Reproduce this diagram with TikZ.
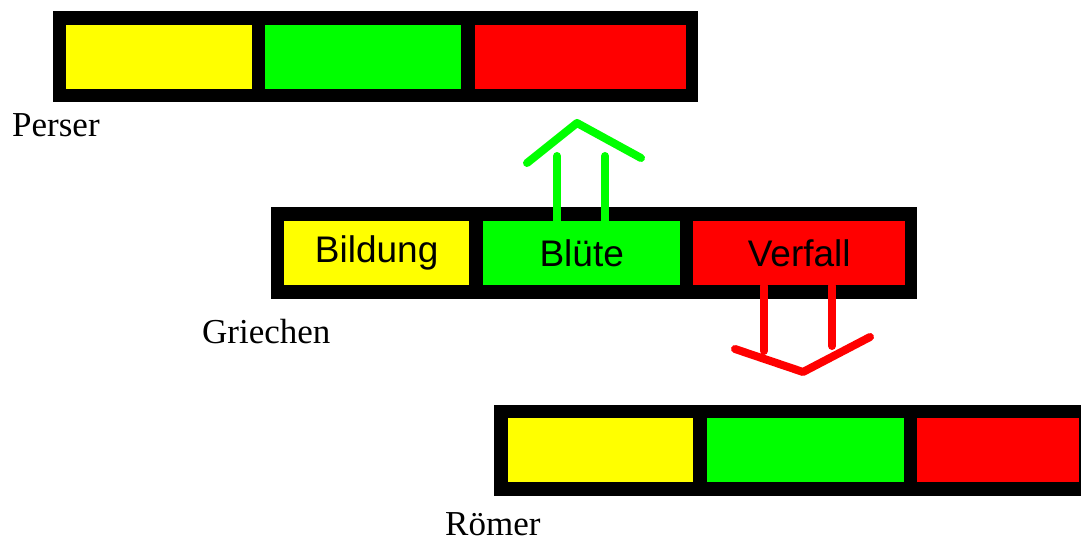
\documentclass[tikz,border=0pt]{standalone}
\usepackage{fontspec}
\setmainfont{Liberation Serif}
\newfontfamily\arial{Liberation Sans}
\definecolor{yel}{RGB}{255,255,0}
\definecolor{grn}{RGB}{0,255,0}
\definecolor{rd}{RGB}{255,0,0}
\begin{document}
\begin{tikzpicture}[x=1pt,y=-1pt,
  frame/.style={fill=black,draw=none},
  seg/.style={draw=none,inner sep=0pt,anchor=north west,minimum height=64pt,font=\arial\fontsize{37}{40}\selectfont,text=black},
  lab/.style={inner sep=0pt,anchor=base west,font=\fontsize{35}{40}\selectfont},
  arr/.style={line width=8pt,line cap=round,line join=round}]
\useasboundingbox (0,0) rectangle (1081,545);
% top bar (Perser)
\fill[frame] (53,11) rectangle (698,102);
\node[seg,fill=yel,minimum width=186pt] (py) at (66,25) {};
\node[seg,fill=grn,minimum width=196pt] (pg) at (265,25) {};
\node[seg,fill=rd,minimum width=211pt] (pr) at (475,25) {};
\node[lab] (perser) at (12,137) {Perser};
% middle bar (Griechen)
\fill[frame] (271,207) rectangle (917,299);
\node[seg,fill=yel,minimum width=185pt] (gy) at (284,221) {Bildung};
\node[seg,fill=grn,minimum width=197pt] (gg) at (483,221) {\raisebox{-4pt}{Blüte}};
\node[seg,fill=rd,minimum width=212pt] (gr) at (693,221) {\raisebox{-2pt}{Verfall}};
\node[lab] (griechen) at (202,343) {Griechen};
% bottom bar (Roemer)
\fill[frame] (494,405) rectangle (1081,496);
\node[seg,fill=yel,minimum width=185pt] (ry) at (508,418) {};
\node[seg,fill=grn,minimum width=197pt] (rg) at (707,418) {};
\node[seg,fill=rd,minimum width=162pt] (rr) at (917,418) {};
\node[lab] (roemer) at (445,535) {Römer};
% green arrow up
\draw[arr,grn] (557,222) -- (557,156);
\draw[arr,grn] (605,222) -- (605,156);
\draw[arr,grn] (527,163) -- (577,123) -- (641,158);
% red arrow down
\draw[arr,rd] (764,286) -- (764,351);
\draw[arr,rd] (832,286) -- (832,346);
\draw[arr,rd] (735,349) -- (803,372) -- (870,337);
\end{tikzpicture}
\end{document}
